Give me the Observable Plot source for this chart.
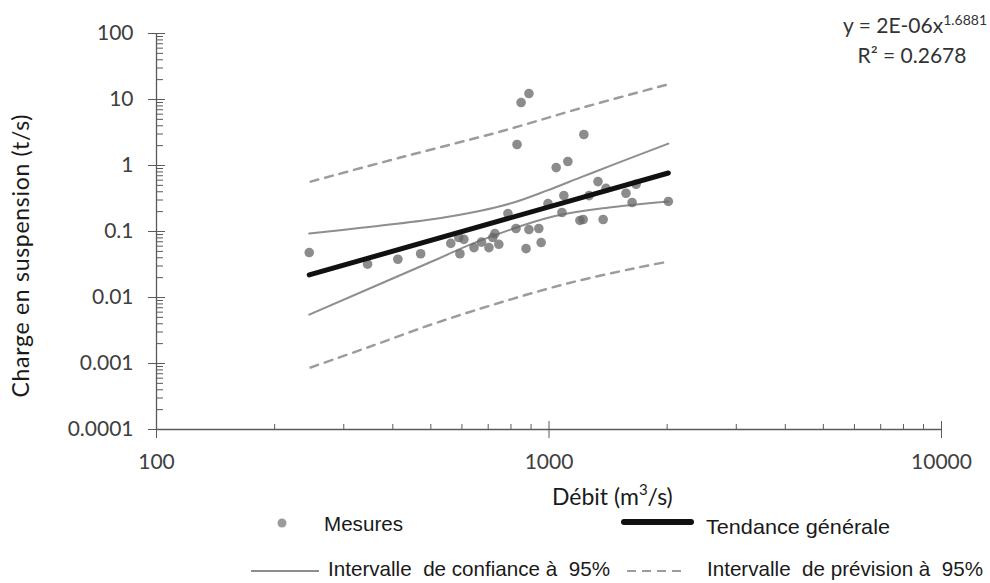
<!DOCTYPE html>
<html><head><meta charset="utf-8">
<script src="https://cdn.jsdelivr.net/npm/d3@7"></script>
<script src="https://cdn.jsdelivr.net/npm/@observablehq/plot@0.6"></script>
<style>body{margin:0;background:#fff;} svg{display:block;}</style>
</head><body><div id="chart"></div>
<script>
// ---- data ----
const mesuresDebit  = [245, 345, 412, 471, 562, 589, 607, 593, 644, 673, 703, 719, 728, 745, 786, 824, 829, 849, 874, 889, 889, 942, 955, 994, 1043, 1079, 1091, 1117, 1199, 1222, 1227, 1265, 1333, 1374, 1397, 1571, 1628, 1667, 2014];
const mesuresCharge = [0.048, 0.032, 0.038, 0.046, 0.066, 0.081, 0.076, 0.046, 0.057, 0.069, 0.057, 0.081, 0.093, 0.064, 0.187, 0.111, 2.08, 9.0, 0.055, 12.3, 0.107, 0.111, 0.068, 0.265, 0.93, 0.194, 0.35, 1.15, 0.147, 0.152, 2.95, 0.35, 0.57, 0.152, 0.45, 0.38, 0.275, 0.52, 0.285];

const tendanceDebit  = [245, 2014];
const tendanceCharge = [0.022, 0.77];

const confHautDebit  = [245, 337, 499, 665, 813, 991, 1203, 1459, 2014];
const confHautCharge = [0.093, 0.115, 0.152, 0.205, 0.275, 0.42, 0.66, 1.03, 2.15];
const confBasDebit   = [245, 508, 665, 1030, 1459, 2014];
const confBasCharge  = [0.0055, 0.036, 0.072, 0.17, 0.235, 0.285];

const prevHautDebit  = [247, 418, 752, 1224, 2014];
const prevHautCharge = [0.57, 1.32, 3.27, 7.6, 17];
const prevBasDebit   = [247, 345, 508, 752, 1113, 1641, 2014];
const prevBasCharge  = [0.00087, 0.00175, 0.0040, 0.0084, 0.0163, 0.0275, 0.035];

const yTicks = [0.0001, 0.001, 0.01, 0.1, 1, 10, 100];
const yTickLabels = ["0.0001", "0.001", "0.01", "0.1", "1", "10", "100"];
const xTicks = [100, 1000, 10000];
const xTickLabels = ["100", "1000", "10000"];

const titreX = "Débit (m";
const titreY = "Charge en suspension (t/s)";
const equation = "y = 2E-06x";
const exposant = "1.6881";
const r2 = "R² = 0.2678";
const legendes = ["Mesures", "Tendance générale", "Intervalle  de confiance à  95%", "Intervalle  de prévision à  95%"];

// ---- layout ----
const W = 990, H = 583;
const mL = 156, mR = 49, mT = 33, mB = 154;
const frameW = W - mL - mR, frameH = H - mT - mB;

const rows = (xs, ys) => xs.map((x, i) => ({x, y: ys[i]}));
const minorY = yTicks.slice(0, -1).flatMap(d => d3.range(2, 10).map(k => k * d));
const minorX = xTicks.slice(0, -1).flatMap(d => d3.range(2, 10).map(k => k * d));
const axisColor = "#5a5a5a";

const chart = Plot.plot({
  width: W, height: H,
  marginLeft: mL, marginRight: mR, marginTop: mT, marginBottom: mB,
  style: {fontFamily: "Lato, 'Open Sans', sans-serif", background: "#fff", overflow: "visible"},
  x: {type: "log", domain: [100, 10000]},
  y: {type: "log", domain: [0.0001, 100]},
  marks: [
    Plot.line(rows(prevHautDebit, prevHautCharge), {x: "x", y: "y", stroke: "#9c9c9c", strokeWidth: 2.5, strokeDasharray: "8,7", curve: "catmull-rom"}),
    Plot.line(rows(prevBasDebit, prevBasCharge), {x: "x", y: "y", stroke: "#9c9c9c", strokeWidth: 2.5, strokeDasharray: "8,7", curve: "catmull-rom"}),
    Plot.line(rows(confHautDebit, confHautCharge), {x: "x", y: "y", stroke: "#8e8e8e", strokeWidth: 2, curve: "catmull-rom"}),
    Plot.line(rows(confBasDebit, confBasCharge), {x: "x", y: "y", stroke: "#8e8e8e", strokeWidth: 2, curve: "catmull-rom"}),
    Plot.dot(rows(mesuresDebit, mesuresCharge), {x: "x", y: "y", r: 4.8, fill: "#666", fillOpacity: 0.75}),
    Plot.line(rows(tendanceDebit, tendanceCharge), {x: "x", y: "y", stroke: "#111", strokeWidth: 5, strokeLinecap: "round"}),
    // axes
    Plot.ruleX([100], {stroke: axisColor, strokeWidth: 1.3}),
    Plot.ruleY([0.0001], {stroke: axisColor, strokeWidth: 1.3}),
    Plot.tickY(minorY, {y: d => d, stroke: axisColor, insetRight: frameW - 7}),
    Plot.tickY(yTicks, {y: d => d, stroke: axisColor, insetLeft: -8, insetRight: frameW - 9}),
    Plot.tickX(minorX, {x: d => d, stroke: axisColor, insetTop: frameH - 5}),
    Plot.tickX(xTicks, {x: d => d, stroke: axisColor, insetTop: frameH - 8, insetBottom: -9}),
    Plot.axisY(yTicks, {tickSize: 0, tickPadding: 23, tickFormat: d => yTickLabels[yTicks.indexOf(d)], fontSize: 21, fill: "#404040", label: null}),
    Plot.axisX(xTicks, {tickSize: 0, tickPadding: 25, tickFormat: d => xTickLabels[xTicks.indexOf(d)], fontSize: 21, fill: "#404040", label: null})
  ]
});
document.getElementById("chart").appendChild(chart);

const svg = d3.select(chart);
const lato = "Lato, 'Open Sans', sans-serif";
const narrow = "'Liberation Sans Narrow', 'Arial Narrow', 'Liberation Sans', Arial, sans-serif";

// axis titles
svg.append("text").attr("transform", "translate(29,256) rotate(-90)")
  .attr("text-anchor", "middle").attr("font-family", lato).attr("font-size", 23).attr("fill", "#1a1a1a")
  .attr("textLength", 283).attr("lengthAdjust", "spacing").text(titreY);

const tx = svg.append("text").attr("x", 552).attr("y", 505).attr("text-anchor", "start").attr("font-family", lato).attr("font-size", 23).attr("fill", "#1a1a1a");
tx.append("tspan").text(titreX);
tx.append("tspan").attr("font-size", 15).attr("dy", -10).text("3");
tx.append("tspan").attr("dy", 10).text("/s)");

// equation
const eq = svg.append("text").attr("x", 843).attr("y", 33).attr("text-anchor", "start").attr("font-family", lato).attr("font-size", 21).attr("fill", "#333");
eq.append("tspan").text(equation);
eq.append("tspan").attr("font-size", 14).attr("dy", -8).text(exposant);
svg.append("text").attr("x", 912).attr("y", 63).attr("text-anchor", "middle").attr("font-family", lato).attr("font-size", 21).attr("fill", "#333").text(r2);

// legend
const lg = svg.append("g").attr("font-family", narrow).attr("font-size", 21).attr("fill", "#1a1a1a").attr("text-anchor", "start").style("white-space", "pre");
lg.append("circle").attr("cx", 282).attr("cy", 523).attr("r", 4.5).attr("fill", "#9b9b9b");
lg.append("text").attr("x", 324).attr("y", 531).attr("textLength", 79).attr("lengthAdjust", "spacingAndGlyphs").text(legendes[0]);
lg.append("line").attr("x1", 624).attr("x2", 691).attr("y1", 522).attr("y2", 522).attr("stroke", "#111").attr("stroke-width", 6).attr("stroke-linecap", "round");
lg.append("text").attr("x", 706).attr("y", 534).attr("textLength", 184).attr("lengthAdjust", "spacingAndGlyphs").text(legendes[1]);
lg.append("line").attr("x1", 251).attr("x2", 319).attr("y1", 571).attr("y2", 571).attr("stroke", "#8e8e8e").attr("stroke-width", 2);
lg.append("text").attr("x", 328).attr("y", 576).attr("textLength", 282).attr("lengthAdjust", "spacingAndGlyphs").text(legendes[2]);
lg.append("line").attr("x1", 627).attr("x2", 684).attr("y1", 571).attr("y2", 571).attr("stroke", "#9c9c9c").attr("stroke-width", 2).attr("stroke-dasharray", "9,6");
lg.append("text").attr("x", 707).attr("y", 576).attr("textLength", 276).attr("lengthAdjust", "spacingAndGlyphs").text(legendes[3]);
</script>
</body></html>
